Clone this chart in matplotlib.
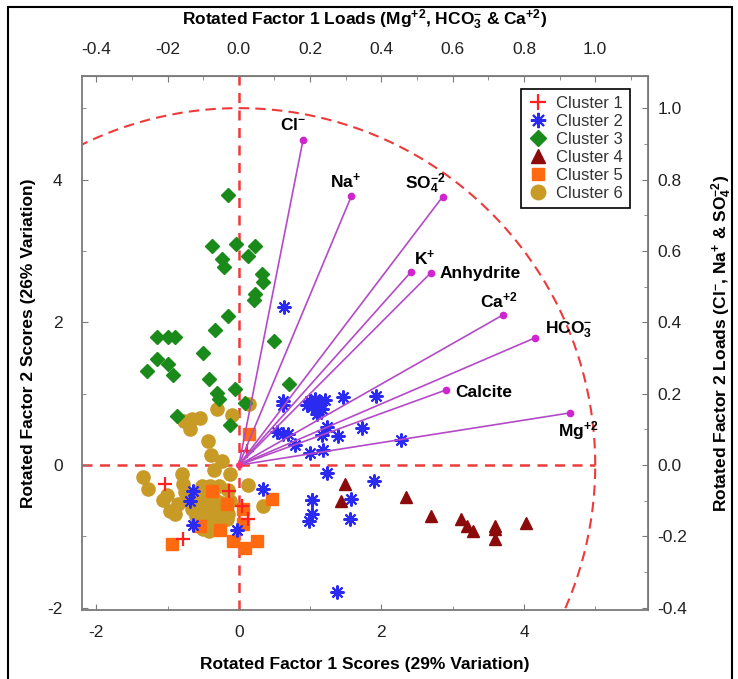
import numpy as np
import matplotlib
matplotlib.use('Agg')
import matplotlib.pyplot as plt
from matplotlib.patches import Rectangle
from matplotlib.ticker import MultipleLocator, FixedLocator, FixedFormatter

plt.rcParams['font.family'] = ['Liberation Sans', 'DejaVu Sans']
plt.rcParams['mathtext.fontset'] = 'custom'
plt.rcParams['mathtext.rm'] = 'Liberation Sans:bold'
plt.rcParams['mathtext.it'] = 'Liberation Sans:bold'
plt.rcParams['mathtext.bf'] = 'Liberation Sans:bold'
plt.rcParams['mathtext.default'] = 'rm'
plt.rcParams['axes.unicode_minus'] = False

# Факторні навантаження (loadings)
var_names = [r'Cl$^{-}$', r'Na$^{+}$', r'SO$_4^{-2}$', r'K$^{+}$', 'Anhydrite',
             r'Ca$^{+2}$', r'HCO$_3^{-}$', 'Calcite', r'Mg$^{+2}$']
load_f1 = [0.180, 0.316, 0.572, 0.482, 0.538, 0.740, 0.830, 0.580, 0.928]
load_f2 = [0.910, 0.754, 0.752, 0.540, 0.538, 0.420, 0.356, 0.210, 0.146]

# Факторні оцінки по кластерах
c1_x = [-1.03, -0.14, -0.79, 0.05, 0.13, 0.12]
c1_y = [-0.27, -0.36, -1.03, -0.57, -0.75, 0.20]

c2_x = [0.64, 0.62, 0.62, 1.00, 1.07, 1.14, 1.21, 1.02, 1.09, 1.16, 0.95, 1.46, 1.92,
        0.53, 0.62, 0.69, 1.23, 1.16, 1.39, 1.73, 0.79, 1.00, 1.18, 2.28, 1.23, 1.90,
        0.34, 1.02, 1.02, 0.99, 1.58, 1.56, 1.38, -0.64, -0.69, -0.64, -0.03, 1.03]
c2_y = [2.21, 0.90, 0.84, 0.90, 0.93, 0.89, 0.91, 0.82, 0.72, 0.79, 0.84, 0.96, 0.97,
        0.47, 0.44, 0.43, 0.54, 0.42, 0.41, 0.52, 0.28, 0.17, 0.21, 0.35, -0.11, -0.23,
        -0.33, -0.49, -0.69, -0.79, -0.48, -0.75, -1.78, -0.36, -0.51, -0.84, -0.91, -0.49]

c3_x = [-0.15, -0.37, -0.04, 0.23, 0.13, -0.24, -0.21, 0.32, 0.34, 0.23, 0.21, -0.15,
        -0.33, -1.15, -0.99, -0.90, -0.50, -1.15, -0.99, -1.29, -0.93, -0.42, -0.06,
        -0.31, -0.28, 0.08, 0.49, -0.87, -0.12, 0.70]
c3_y = [3.79, 3.07, 3.10, 3.07, 2.93, 2.89, 2.77, 2.67, 2.57, 2.39, 2.31, 2.09,
        1.89, 1.80, 1.79, 1.79, 1.57, 1.48, 1.41, 1.32, 1.26, 1.20, 1.07,
        1.01, 0.92, 0.87, 1.74, 0.69, 0.56, 1.13]

c4_x = [1.49, 1.43, 2.34, 2.70, 3.11, 3.20, 3.29, 3.59, 3.59, 3.60, 4.03]
c4_y = [-0.26, -0.50, -0.45, -0.72, -0.75, -0.86, -0.93, -0.85, -0.90, -1.04, -0.81]

c5_x = [0.14, -0.38, -0.17, 0.06, 0.47, 0.06, -0.54, -0.27, -0.94, -0.08, 0.08, 0.26]
c5_y = [0.43, -0.37, -0.54, -0.61, -0.47, -0.82, -0.86, -0.91, -1.10, -1.06, -1.16, -1.06]

c6_x = [-0.31, -0.77, -0.66, -0.55, -0.69, -0.09, 0.14, -0.43, -0.39, -0.24,
        -0.35, -0.13, 0.13, -1.34, -1.27, -1.01, -1.06, -0.97, -0.80, -0.78,
        -0.52, -0.40, -0.28, -0.15, -0.30, 0.34,
        -0.70, -0.62, -0.55, -0.48, -0.42, -0.35, -0.28, -0.20, -0.12,
        -0.65, -0.58, -0.50, -0.44, -0.37, -0.30, -0.22, -0.15,
        -0.60, -0.52, -0.45, -0.38, -0.31, -0.24, -0.17,
        -0.55, -0.47, -0.40, -0.33, -0.26,
        -0.50, -0.42, -0.35, -0.85, -0.90, -0.75]
c6_y = [0.78, 0.62, 0.65, 0.66, 0.51, 0.70, 0.86, 0.34, 0.14, 0.06,
        -0.07, -0.13, -0.28, -0.16, -0.33, -0.42, -0.49, -0.65, -0.12, -0.26,
        -0.30, -0.30, -0.30, -0.35, -0.85, -0.58,
        -0.50, -0.48, -0.52, -0.45, -0.50, -0.47, -0.52, -0.55, -0.50,
        -0.62, -0.60, -0.64, -0.58, -0.62, -0.66, -0.63, -0.68,
        -0.72, -0.75, -0.70, -0.74, -0.78, -0.72, -0.76,
        -0.82, -0.85, -0.80, -0.86, -0.82,
        -0.90, -0.92, -0.88, -0.55, -0.68, -0.38]

top_ticks = [-0.4, -0.2, 0.0, 0.2, 0.4, 0.6, 0.8, 1.0]
top_labels = ['-0.4', '-02', '0.0', '0.2', '0.4', '0.6', '0.8', '1.0']
right_ticks = [-0.4, -0.2, 0.0, 0.2, 0.4, 0.6, 0.8, 1.0]
right_labels = ['-0.4', '-0.2', '0.0', '0.2', '0.4', '0.6', '0.8', '1.0']

scale = 5.0  # 1.0 навантаження = 5 одиниць оцінки

fig = plt.figure(figsize=(7.38, 6.79), dpi=100)
ax = fig.add_axes([82 / 738, 1 - 610 / 679, (648 - 82) / 738, (610 - 76) / 679])
ax.set_xlim(-2.2, 5.74)
ax.set_ylim(-2.03, 5.45)

# Пунктирні осі та коло
red = '#ee3a3a'
ax.axhline(0, xmax=(5.0 + 2.2) / (5.74 + 2.2), color=red, ls=(0, (4, 3)), lw=1.8, zorder=1)
ax.axvline(0, color=red, ls=(0, (4, 3)), lw=1.8, zorder=1)
t = np.linspace(0, 2 * np.pi, 400)
ax.plot(scale * np.cos(t), scale * np.sin(t), color=red, ls=(0, (5, 3)), lw=1.5, zorder=1)

# Кластери
ax.plot(c6_x, c6_y, 'o', color='#c89a26', ms=9.5, mec='#c89a26', label='Cluster 6', zorder=2)
ax.plot(c5_x, c5_y, 's', color='#ff6a10', ms=8.5, label='Cluster 5', zorder=3)
ax.plot(c1_x, c1_y, '+', color='#ff2020', ms=10, mew=1.6, label='Cluster 1', zorder=3)
ax.plot(c2_x, c2_y, ls='none', marker=(8, 2, 0), color='#2a2af0', ms=10, mew=1.5,
        label='Cluster 2', zorder=3)
ax.plot(c3_x, c3_y, 'D', color='#1a8a1a', ms=7, label='Cluster 3', zorder=3)
ax.plot(c4_x, c4_y, '^', color='#8b0a0a', ms=9, label='Cluster 4', zorder=3)

# Вектори навантажень
lx = np.array(load_f1) * scale
ly = np.array(load_f2) * scale
for x, y in zip(lx, ly):
    ax.plot([0, x], [0, y], color='#b44ac8', lw=1.2, zorder=4)
ax.plot(lx, ly, 'o', color='#d024d0', ms=4.5, zorder=5)
ax.plot([0], [0], 'o', color='#ff3070', ms=4, zorder=5)

offsets = [(-0.14, 0.22, 'center'), (-0.08, 0.21, 'center'), (-0.24, 0.18, 'center'),
           (0.2, 0.2, 'center'), (0.13, 0.0, 'left'), (-0.05, 0.21, 'center'),
           (0.14, 0.11, 'left'), (0.14, -0.03, 'left'), (0.12, -0.24, 'center')]
for name, x, y, (dx, dy, ha) in zip(var_names, lx, ly, offsets):
    ax.text(x + dx, y + dy, name, ha=ha, va='center', fontsize=12.5, fontweight='bold',
            zorder=6)

# Осі
gray = '#7a7a7a'
for s in ax.spines.values():
    s.set_color(gray)
    s.set_linewidth(1.3)
ax.xaxis.set_major_locator(MultipleLocator(2))
ax.xaxis.set_minor_locator(MultipleLocator(1))
ax.yaxis.set_major_locator(MultipleLocator(2))
ax.yaxis.set_minor_locator(MultipleLocator(1))
ax.tick_params(which='both', direction='in', color=gray, labelsize=12.5,
               labelcolor='#222222')
ax.tick_params(axis='x', which='major', length=4, pad=11)
ax.tick_params(axis='y', which='major', length=4, pad=14)
ax.tick_params(which='minor', length=3)
ax.set_xlabel('Rotated Factor 1 Scores (29% Variation)', fontsize=12.5,
              fontweight='bold', labelpad=12)
ax.set_ylabel('Rotated Factor 2 Scores (26% Variation)', fontsize=12.5,
              fontweight='bold', labelpad=8)

top = ax.secondary_xaxis('top', functions=(lambda v: v / scale, lambda v: v * scale))
top.xaxis.set_major_locator(FixedLocator(top_ticks))
top.xaxis.set_major_formatter(FixedFormatter(top_labels))
top.xaxis.set_minor_locator(MultipleLocator(0.1))
top.tick_params(which='both', direction='in', color=gray, labelsize=12.5,
                labelcolor='#222222')
top.tick_params(which='major', length=4, pad=14)
top.tick_params(which='minor', length=3)
top.spines['top'].set_color(gray)
top.set_xlabel(r'Rotated Factor 1 Loads (Mg$^{+2}$, HCO$_3^{-}$ & Ca$^{+2}$)',
               fontsize=12.5, fontweight='bold', labelpad=12)

right = ax.secondary_yaxis('right', functions=(lambda v: v / scale, lambda v: v * scale))
right.yaxis.set_major_locator(FixedLocator(right_ticks))
right.yaxis.set_major_formatter(FixedFormatter(right_labels))
right.yaxis.set_minor_locator(MultipleLocator(0.1))
right.tick_params(which='both', direction='in', color=gray, labelsize=12.5,
                  labelcolor='#222222')
right.tick_params(which='major', length=4, pad=7)
right.tick_params(which='minor', length=3)
right.spines['right'].set_color(gray)
right.set_ylabel(r'Rotated Factor 2 Loads (Cl$^{-}$, Na$^{+}$ & SO$_4^{-2}$)',
                 fontsize=12.5, fontweight='bold', labelpad=16)

# Легенда
h, l = ax.get_legend_handles_labels()
order = [l.index('Cluster %d' % i) for i in range(1, 7)]
leg = ax.legend([h[i] for i in order], [l[i] for i in order], loc='upper right',
                bbox_to_anchor=(638 / 738, 1 - 81 / 679), bbox_transform=fig.transFigure,
                fancybox=False, edgecolor='black', framealpha=1, fontsize=12,
                handlelength=1.2, handletextpad=0.5, borderpad=0.4, labelspacing=0.18,
                markerscale=1.1)
leg.get_frame().set_linewidth(1.2)
for txt in leg.get_texts():
    txt.set_color('#333333')

# Рамка навколо рисунка
fig.patches.append(Rectangle((8 / 738, -0.01), (732 - 8) / 738, 1 - 7 / 679 + 0.01,
                             transform=fig.transFigure, fill=False, edgecolor='black',
                             lw=1.5))

fig.savefig('out.png', dpi=100)
